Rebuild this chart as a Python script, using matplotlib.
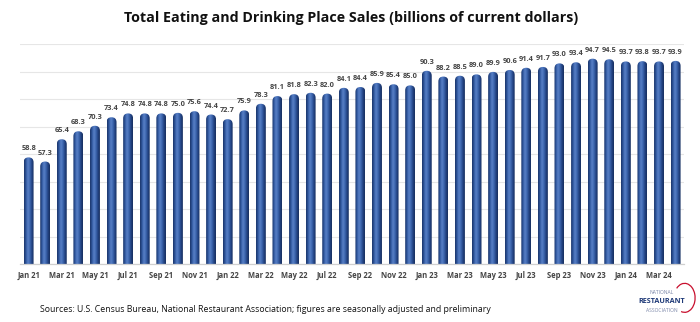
import matplotlib.pyplot as plt
import numpy as np
from matplotlib.patches import FancyBboxPatch, Arc
from matplotlib.colors import LinearSegmentedColormap

plt.rcParams['font.family'] = ['Open Sans', 'DejaVu Sans']

months = ['Jan 21', 'Feb 21', 'Mar 21', 'Apr 21', 'May 21', 'Jun 21', 'Jul 21', 'Aug 21',
          'Sep 21', 'Oct 21', 'Nov 21', 'Dec 21', 'Jan 22', 'Feb 22', 'Mar 22', 'Apr 22',
          'May 22', 'Jun 22', 'Jul 22', 'Aug 22', 'Sep 22', 'Oct 22', 'Nov 22', 'Dec 22',
          'Jan 23', 'Feb 23', 'Mar 23', 'Apr 23', 'May 23', 'Jun 23', 'Jul 23', 'Aug 23',
          'Sep 23', 'Oct 23', 'Nov 23', 'Dec 23', 'Jan 24', 'Feb 24', 'Mar 24', 'Apr 24']
sales = [58.8, 57.3, 65.4, 68.3, 70.3, 73.4, 74.8, 74.8, 74.8, 75.0, 75.6, 74.4,
         72.7, 75.9, 78.3, 81.1, 81.8, 82.3, 82.0, 84.1, 84.4, 85.9, 85.4, 85.0,
         90.3, 88.2, 88.5, 89.0, 89.9, 90.6, 91.4, 91.7, 93.0, 93.4, 94.7, 94.5,
         93.7, 93.8, 93.7, 93.9]

fig = plt.figure(figsize=(7, 3.22), dpi=100)
ax = fig.add_axes([0.029, 0.180, 0.948, 0.683])

x = np.arange(len(months))
ymin, ymax = 20, 100
bars = ax.bar(x, sales, width=0.6, color='none', edgecolor='none', zorder=2)
ax.set_xlim(-0.5, len(months) - 0.5)
ax.set_ylim(ymin, ymax)

# cylinder shading
cmap = LinearSegmentedColormap.from_list('cyl', ['#1a3266', '#2f579e', '#5b82c8', '#3d67b0', '#234384', '#172d5c'])
grad = np.linspace(0, 1, 64).reshape(1, -1)

# aspect for round tops
w_px = fig.get_figwidth() * fig.dpi * 0.948 / (len(months))
h_px = fig.get_figheight() * fig.dpi * 0.683 / (ymax - ymin)
aspect = w_px / h_px

for b in bars:
    bx, bw, top = b.get_x(), b.get_width(), b.get_height()
    patch = FancyBboxPatch((bx, ymin - 5), bw, top - ymin + 5,
                           boxstyle='round,pad=0,rounding_size=%f' % (bw / 2),
                           mutation_aspect=aspect, facecolor='none', edgecolor='none')
    ax.add_patch(patch)
    im = ax.imshow(grad, cmap=cmap, aspect='auto', extent=(bx, bx + bw, ymin, top + 1),
                   zorder=2, interpolation='bicubic')
    im.set_clip_path(patch)
    ax.text(bx + bw / 2, top + 1.8, '%.1f' % top, ha='center', va='bottom',
            fontsize=5.3, color='#454545', fontweight='bold', zorder=3)
ax.set_xlim(-0.5, len(months) - 0.5)
ax.set_ylim(ymin, ymax)

ax.set_yticks(np.arange(ymin, ymax + 1, 10))
ax.yaxis.grid(True, color='#e6e6e6', linewidth=0.8, zorder=0)
ax.set_axisbelow(True)
ax.tick_params(axis='y', left=False, labelleft=False)
ax.set_xticks(x[::2])
ax.set_xticklabels(months[::2], fontsize=5.5, color='#454545', fontweight='bold')
ax.tick_params(axis='x', length=0, pad=5)
for s in ['top', 'right', 'left']:
    ax.spines[s].set_visible(False)
ax.spines['bottom'].set_color('#d0d0d0')
ax.spines['bottom'].set_linewidth(0.9)

fig.text(0.502, 0.945, 'Total Eating and Drinking Place Sales (billions of current dollars)',
         ha='center', va='center', fontsize=10.3, fontweight='bold', color='#111111')
fig.text(0.057, 0.025, 'Sources: U.S. Census Bureau, National Restaurant Association; figures are seasonally adjusted and preliminary',
         ha='left', va='bottom', fontsize=6.35, color='#111111')

# logo
fig.text(0.945, 0.092, 'NATIONAL', ha='center', va='center', fontsize=3.6, color='#7a86a8')
fig.text(0.945, 0.064, 'RESTAURANT', ha='center', va='center', fontsize=5.2, color='#1f3a78', fontweight='bold')
fig.text(0.945, 0.037, 'ASSOCIATION', ha='center', va='center', fontsize=3.6, color='#7a86a8')
lax = fig.add_axes([0.90, 0.0, 0.1, 0.15])
lax.set_xlim(0, 1)
lax.set_ylim(0, 1)
lax.axis('off')
lax.add_patch(Arc((0.78, 0.5), 0.3, 0.6, theta1=-100, theta2=120, color='#c8102e', linewidth=0.9))

fig.savefig('out.png', dpi=100)
